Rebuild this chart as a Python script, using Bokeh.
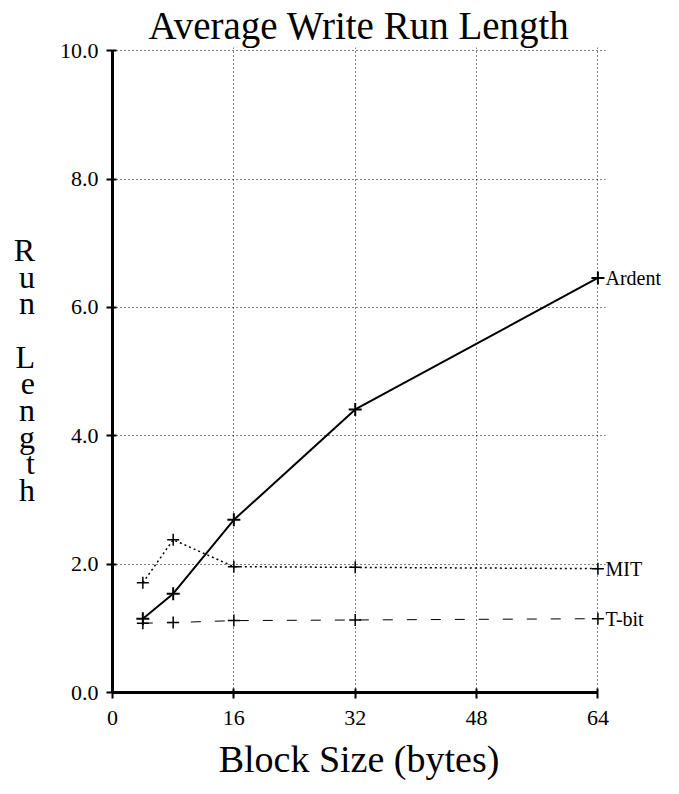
from bokeh.plotting import figure
from bokeh.models import Range1d, FixedTicker, LinearAxis
from bokeh.embed import file_html
from bokeh.resources import INLINE

# Data
block_sizes = [4, 8, 16, 32, 64]
ardent = [1.15, 1.54, 2.69, 4.41, 6.46]
mit = [1.71, 2.38, 1.96, 1.95, 1.93]
tbit = [1.08, 1.09, 1.12, 1.13, 1.15]
x_ticks = [0, 16, 32, 48, 64]
y_ticks = [0, 2, 4, 6, 8, 10]
y_tick_labels = ["0.0", "2.0", "4.0", "6.0", "8.0", "10.0"]
series_names = ["Ardent", "MIT", "T-bit"]

FONT = "Liberation Serif"

p = figure(width=679, height=794, output_backend="svg", toolbar_location=None,
           x_range=Range1d(0, 65), y_range=Range1d(0, 10.05),
           title="Average Write Run Length",
           min_border_left=112, min_border_right=74, min_border_top=47, min_border_bottom=102)
p.title.text_font = FONT
p.title.text_font_size = "39px"
p.title.text_font_style = "normal"
p.title.text_color = "black"
p.title.align = "center"
p.title.standoff = 2
p.outline_line_color = None
p.background_fill_color = "white"
p.border_fill_color = "white"

# Grid
for g in (p.xgrid, p.ygrid):
    g.grid_line_color = "black"
    g.grid_line_dash = "1 3"
    g.grid_line_width = 1
p.xgrid.ticker = FixedTicker(ticks=x_ticks[1:])
p.ygrid.ticker = FixedTicker(ticks=y_ticks[1:])
p.xgrid.bounds = (0, 10)
p.ygrid.bounds = (0, 64)

# Axes
p.xaxis.ticker = FixedTicker(ticks=x_ticks)
p.yaxis.ticker = FixedTicker(ticks=y_ticks)
p.xaxis.bounds = (0, 64)
p.yaxis.bounds = (0, 10)
p.yaxis.major_label_overrides = {t: l for t, l in zip(y_ticks, y_tick_labels)}
for ax in (p.xaxis[0], p.yaxis[0]):
    ax.axis_line_width = 3
    ax.axis_line_color = "black"
    ax.major_tick_line_width = 2
    ax.major_tick_line_color = "black"
    ax.major_tick_out = 6
    ax.major_tick_in = 4
    ax.minor_tick_line_color = None
    ax.major_label_text_font = FONT
    ax.major_label_text_color = "black"
    ax.axis_label_text_font = FONT
    ax.axis_label_text_font_style = "normal"
    ax.axis_label_text_color = "black"
p.xaxis.major_label_text_font_size = "22px"
p.xaxis.major_label_standoff = 12
p.yaxis.major_label_text_font_size = "22px"
p.yaxis.major_label_standoff = 8
p.xaxis.axis_label = "Block Size (bytes)"
p.xaxis.axis_label_text_font_size = "38px"
p.xaxis.axis_label_standoff = 10

# Stacked y-axis label
p.yaxis.axis_label = "R\nu\nn\n\nL\ne\nn\ng\nt\nh"
p.yaxis.axis_label_orientation = "horizontal"
p.yaxis.axis_label_text_font_size = "32px"
p.yaxis.axis_label_text_line_height = 0.74
p.yaxis.axis_label_text_align = "center"
p.yaxis.axis_label_standoff = 22

# Series
p.line(block_sizes, ardent, line_color="black", line_width=2)
p.scatter(block_sizes, ardent, marker="cross", size=13, line_color="black", line_width=2)
p.line(block_sizes, mit, line_color="black", line_width=1.5, line_dash="2 3")
p.scatter(block_sizes, mit, marker="cross", size=12, line_color="black", line_width=1.5)
p.line(block_sizes, tbit, line_color="black", line_width=1, line_dash="10 14")
p.scatter(block_sizes, tbit, marker="cross", size=12, line_color="black", line_width=1.5)

# Series end labels via a right-hand axis
end_vals = [ardent[-1], mit[-1], tbit[-1]]
rax = LinearAxis(ticker=FixedTicker(ticks=end_vals),
                 major_label_overrides={v: n for v, n in zip(end_vals, series_names)})
rax.axis_line_color = None
rax.major_tick_line_color = None
rax.minor_tick_line_color = None
rax.major_tick_out = 0
rax.major_tick_in = 0
rax.major_label_standoff = 0
rax.major_label_text_font = FONT
rax.major_label_text_font_size = "20px"
rax.major_label_text_color = "black"
p.add_layout(rax, "right")

open("out.html", "w").write(file_html(p, INLINE))
